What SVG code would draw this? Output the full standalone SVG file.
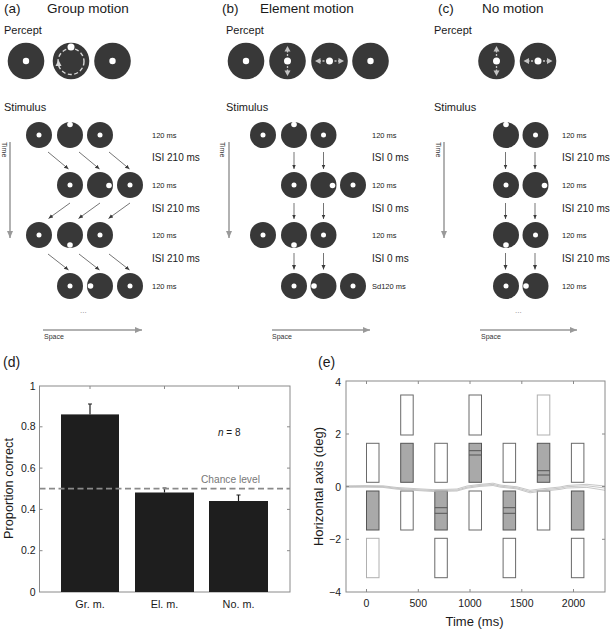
<svg xmlns="http://www.w3.org/2000/svg" width="611" height="631" viewBox="0 0 611 631">
<defs>
<style>
text{font-family:"Liberation Sans",Arial,sans-serif;fill:#1a1a1a}
.title{font-size:13.5px}
.sub{font-size:11px}
.ms{font-size:7.5px}
.isi{font-size:10px}
.small{font-size:7px;fill:#333}
.dots{font-size:8px;fill:#888}
.disk{fill:#383838}
.wd{fill:#fff}
.sa{stroke:#3a3a3a;stroke-width:0.7;fill:none;marker-end:url(#ah)}
.ga{stroke:#999;stroke-width:1.5;fill:none;marker-end:url(#gah)}
.pa{stroke:#c4c4c4;stroke-width:1.3;stroke-dasharray:2 1.5;fill:none}
.pt{fill:#c4c4c4}
.ax{stroke:#8a8a8a;stroke-width:1;fill:none}
.tk{font-size:10.5px}
.bar{fill:#1e1e1e}
.eb{stroke:#1e1e1e;stroke-width:1.2;fill:none}
.er{fill:#fff;stroke:#6a6a6a;stroke-width:1}
.erl{fill:#fff;stroke:#b0b0b0;stroke-width:1}
.ef{fill:#a9a9a9;stroke:#555;stroke-width:1}
.eline{stroke:#555;stroke-width:1;fill:none}
.tr{stroke:#b8b8b8;stroke-width:0.8;fill:none}
</style>
<marker id="ah" markerUnits="userSpaceOnUse" markerWidth="6" markerHeight="6" refX="4.5" refY="2" orient="auto"><path d="M0,0 L4.5,2 L0,4 z" fill="#3a3a3a"/></marker>
<marker id="gah" markerUnits="userSpaceOnUse" markerWidth="9" markerHeight="8" refX="7" refY="3" orient="auto"><path d="M0,0 L7,3 L0,6 z" fill="#999"/></marker>
</defs>

<!-- Panel (a) -->
<g id="panel-a-title"><text x="4" y="12.5" class="title">(a)</text><text x="47" y="12.5" class="title">Group motion</text></g>
<g id="a-percept-label"><text x="4" y="34" class="sub">Percept</text></g>
<g id="a-percept-1"><circle cx="26" cy="61" r="18.3" class="disk"/><circle cx="26" cy="61" r="3.2" class="wd"/></g>
<g id="a-percept-2"><circle cx="71" cy="61" r="18.3" class="disk"/><circle cx="71" cy="61.5" r="13" fill="none" stroke="#d8d8d8" stroke-width="1.4" stroke-dasharray="4 2.5"/><circle cx="71" cy="47" r="3.5" class="wd"/><path d="M55.5,66 L58.5,60 L61.5,66 z" fill="#d8d8d8"/></g>
<g id="a-percept-3"><circle cx="112.5" cy="61" r="18.3" class="disk"/><circle cx="112.5" cy="61" r="3.2" class="wd"/></g>
<g id="a-stimulus-label"><text x="4" y="110.5" class="sub">Stimulus</text></g>

<g id="a-row1"><circle cx="39" cy="135" r="13" class="disk"/><circle cx="39" cy="135" r="2.5" class="wd"/><circle cx="70" cy="135" r="13" class="disk"/><circle cx="70" cy="124.5" r="2.8" class="wd"/><circle cx="100" cy="135" r="13" class="disk"/><circle cx="100" cy="135" r="2.5" class="wd"/></g>
<g id="a-row2"><circle cx="70" cy="185" r="13" class="disk"/><circle cx="70" cy="185" r="2.5" class="wd"/><circle cx="100" cy="185" r="13" class="disk"/><circle cx="109" cy="185.5" r="2.8" class="wd"/><circle cx="130" cy="185" r="13" class="disk"/><circle cx="130" cy="185" r="2.5" class="wd"/></g>
<g id="a-row3"><circle cx="39" cy="235" r="13" class="disk"/><circle cx="39" cy="235" r="2.5" class="wd"/><circle cx="70" cy="235" r="13" class="disk"/><circle cx="70" cy="245" r="2.8" class="wd"/><circle cx="100" cy="235" r="13" class="disk"/><circle cx="100" cy="235" r="2.5" class="wd"/></g>
<g id="a-row4"><circle cx="70" cy="286" r="13" class="disk"/><circle cx="70" cy="286" r="2.5" class="wd"/><circle cx="100" cy="286" r="13" class="disk"/><circle cx="90.5" cy="286" r="2.8" class="wd"/><circle cx="130" cy="286" r="13" class="disk"/><circle cx="130" cy="286" r="2.5" class="wd"/></g>
<g id="a-labels">
<text x="152" y="138" class="ms">120 ms</text><text x="152" y="161" class="isi">ISI 210 ms</text>
<text x="152" y="188" class="ms">120 ms</text><text x="152" y="211.5" class="isi">ISI 210 ms</text>
<text x="152" y="238" class="ms">120 ms</text><text x="152" y="262" class="isi">ISI 210 ms</text>
<text x="152" y="289" class="ms">120 ms</text>
<text x="80" y="313" class="dots">...</text>
<text transform="translate(1.5,142) rotate(90)" class="small">Time</text>
<text x="44" y="339" class="small">Space</text>
</g>

<!-- Panel (b) -->
<g id="panel-b-title"><text x="222" y="12.5" class="title">(b)</text><text x="260" y="12.5" class="title">Element motion</text></g>
<g id="b-percept-label"><text x="226" y="34" class="sub">Percept</text></g>
<g id="b-percept-1"><circle cx="246" cy="61" r="18.3" class="disk"/><circle cx="246" cy="61" r="3.2" class="wd"/></g>
<g id="b-percept-2"><circle cx="287.5" cy="61" r="18.3" class="disk"/><circle cx="287.5" cy="61" r="3.5" class="wd"/><path d="M287.5,56 V51 M287.5,66 V71" class="pa"/><path d="M284.5,51.5 L287.5,46 L290.5,51.5 z M284.5,70.5 L287.5,76 L290.5,70.5 z" class="pt"/></g>
<g id="b-percept-3"><circle cx="329.5" cy="61" r="18.3" class="disk"/><circle cx="329.5" cy="61" r="3.5" class="wd"/><path d="M324.5,61 H320 M334.5,61 H339" class="pa"/><path d="M320.5,58 L315,61 L320.5,64 z M338.5,58 L344,61 L338.5,64 z" class="pt"/></g>
<g id="b-percept-4"><circle cx="370.5" cy="61" r="18.3" class="disk"/><circle cx="370.5" cy="61" r="3.2" class="wd"/></g>
<g id="b-stimulus-label"><text x="226" y="110.5" class="sub">Stimulus</text></g>

<g id="b-row1"><circle cx="263" cy="135" r="13" class="disk"/><circle cx="263" cy="135" r="2.5" class="wd"/><circle cx="294" cy="135" r="13" class="disk"/><circle cx="294" cy="124.5" r="2.8" class="wd"/><circle cx="323.5" cy="135" r="13" class="disk"/><circle cx="323.5" cy="135" r="2.5" class="wd"/></g>
<g id="b-row2"><circle cx="294" cy="185" r="13" class="disk"/><circle cx="294" cy="185" r="2.5" class="wd"/><circle cx="323.5" cy="185" r="13" class="disk"/><circle cx="332.5" cy="185.5" r="2.8" class="wd"/><circle cx="353" cy="185" r="13" class="disk"/><circle cx="353" cy="185" r="2.5" class="wd"/></g>
<g id="b-row3"><circle cx="263" cy="235" r="13" class="disk"/><circle cx="263" cy="235" r="2.5" class="wd"/><circle cx="294" cy="235" r="13" class="disk"/><circle cx="294" cy="245" r="2.8" class="wd"/><circle cx="323.5" cy="235" r="13" class="disk"/><circle cx="323.5" cy="235" r="2.5" class="wd"/></g>
<g id="b-row4"><circle cx="294" cy="286" r="13" class="disk"/><circle cx="294" cy="286" r="2.5" class="wd"/><circle cx="323.5" cy="286" r="13" class="disk"/><circle cx="314" cy="286" r="2.8" class="wd"/><circle cx="353" cy="286" r="13" class="disk"/><circle cx="353" cy="286" r="2.5" class="wd"/></g>
<g id="b-labels">
<text x="372" y="138" class="ms">120 ms</text><text x="372" y="161" class="isi">ISI 0 ms</text>
<text x="372" y="188" class="ms">120 ms</text><text x="372" y="211.5" class="isi">ISI 0 ms</text>
<text x="372" y="238" class="ms">120 ms</text><text x="372" y="262" class="isi">ISI 0 ms</text>
<text x="372" y="289" class="ms">Sd120 ms</text>
<text transform="translate(219.5,142) rotate(90)" class="small">Time</text>
<text x="272" y="339" class="small">Space</text>
</g>

<!-- Panel (c) -->
<g id="panel-c-title"><text x="438" y="12.5" class="title">(c)</text><text x="482" y="12.5" class="title">No motion</text></g>
<g id="c-percept-label"><text x="434" y="34" class="sub">Percept</text></g>
<g id="c-percept-1"><circle cx="496.5" cy="61" r="18.3" class="disk"/><circle cx="496.5" cy="61" r="3.5" class="wd"/><path d="M496.5,56 V51 M496.5,66 V71" class="pa"/><path d="M493.5,51.5 L496.5,46 L499.5,51.5 z M493.5,70.5 L496.5,76 L499.5,70.5 z" class="pt"/></g>
<g id="c-percept-2"><circle cx="538" cy="61" r="18.3" class="disk"/><circle cx="538" cy="61" r="3.5" class="wd"/><path d="M533,61 H528.5 M543,61 H547.5" class="pa"/><path d="M529,58 L523.5,61 L529,64 z M547,58 L552.5,61 L547,64 z" class="pt"/></g>
<g id="c-stimulus-label"><text x="434" y="110.5" class="sub">Stimulus</text></g>

<g id="c-row1"><circle cx="506" cy="135" r="13" class="disk"/><circle cx="506" cy="124.5" r="2.8" class="wd"/><circle cx="535.5" cy="135" r="13" class="disk"/><circle cx="535.5" cy="135" r="2.5" class="wd"/></g>
<g id="c-row2"><circle cx="506" cy="185" r="13" class="disk"/><circle cx="506" cy="185" r="2.5" class="wd"/><circle cx="535.5" cy="185" r="13" class="disk"/><circle cx="544.5" cy="185.5" r="2.8" class="wd"/></g>
<g id="c-row3"><circle cx="506" cy="235" r="13" class="disk"/><circle cx="506" cy="245" r="2.8" class="wd"/><circle cx="535.5" cy="235" r="13" class="disk"/><circle cx="535.5" cy="235" r="2.5" class="wd"/></g>
<g id="c-row4"><circle cx="506" cy="286" r="13" class="disk"/><circle cx="506" cy="286" r="2.5" class="wd"/><circle cx="535.5" cy="286" r="13" class="disk"/><circle cx="526" cy="286" r="2.8" class="wd"/></g>
<g id="c-labels">
<text x="562" y="138" class="ms">120 ms</text><text x="562" y="161" class="isi">ISI 210 ms</text>
<text x="562" y="188" class="ms">120 ms</text><text x="562" y="211.5" class="isi">ISI 210 ms</text>
<text x="562" y="238" class="ms">120 ms</text><text x="562" y="262" class="isi">ISI 210 ms</text>
<text x="562" y="289" class="ms">120 ms</text>
<text x="515" y="313" class="dots">...</text>
<text transform="translate(435.5,142) rotate(90)" class="small">Time</text>
<text x="481" y="339" class="small">Space</text>
</g>

<!-- Connectors -->
<g id="connectors">
<line class="sa" x1="48" y1="152" x2="68.5" y2="169"/>
<line class="sa" x1="79" y1="152" x2="99.5" y2="169"/>
<line class="sa" x1="109" y1="152" x2="129.5" y2="169"/>
<line class="sa" x1="70" y1="203" x2="48.5" y2="218.5"/>
<line class="sa" x1="100" y1="203" x2="78.5" y2="218.5"/>
<line class="sa" x1="130" y1="203" x2="108.5" y2="218.5"/>
<line class="sa" x1="48" y1="254" x2="68.5" y2="270"/>
<line class="sa" x1="79" y1="254" x2="99.5" y2="270"/>
<line class="sa" x1="109" y1="254" x2="129.5" y2="270"/>
<line class="sa" x1="294" y1="152" x2="294" y2="169"/>
<line class="sa" x1="323.5" y1="152" x2="323.5" y2="169"/>
<line class="sa" x1="294" y1="203" x2="294" y2="219"/>
<line class="sa" x1="323.5" y1="203" x2="323.5" y2="219"/>
<line class="sa" x1="294" y1="253" x2="294" y2="269.5"/>
<line class="sa" x1="323.5" y1="253" x2="323.5" y2="269.5"/>
<line class="sa" x1="505.5" y1="152" x2="505.5" y2="169"/>
<line class="sa" x1="535" y1="152" x2="535" y2="169"/>
<line class="sa" x1="505.5" y1="203" x2="505.5" y2="219"/>
<line class="sa" x1="535" y1="203" x2="535" y2="219"/>
<line class="sa" x1="505.5" y1="253" x2="505.5" y2="269.5"/>
<line class="sa" x1="535" y1="253" x2="535" y2="269.5"/>
<line class="ga" x1="10" y1="142" x2="10" y2="238"/>
<line class="ga" x1="229" y1="142" x2="229" y2="238"/>
<line class="ga" x1="444" y1="142" x2="444" y2="238"/>
<line class="ga" x1="43" y1="330" x2="142" y2="330"/>
<line class="ga" x1="272" y1="330" x2="370" y2="330"/>
<line class="ga" x1="480" y1="330" x2="577" y2="330"/>
</g>

<!-- Panel (d) -->
<g id="panel-d">
<text x="3" y="367" class="title" style="font-size:14px">(d)</text>
<rect x="39.5" y="386" width="250.5" height="206" class="ax"/>
<path class="ax" d="M39.5,550.7 h3 M39.5,509.4 h3 M39.5,468.1 h3 M39.5,426.8 h3 M290,550.7 h-3 M290,509.4 h-3 M290,468.1 h-3 M290,426.8 h-3 M90,386 v3 M164.5,386 v3 M238.5,386 v3 M90,592 v-3 M164.5,592 v-3 M238.5,592 v-3"/>
<rect x="61" y="414.4" width="58" height="177.6" class="bar"/>
<rect x="135" y="492.5" width="59" height="99.5" class="bar"/>
<rect x="209" y="501" width="59" height="91" class="bar"/>
<path class="eb" d="M90,414.4 V404 M88,404 H92 M164.5,492.5 V488 M162.5,488 H166.5 M238.5,501 V495 M236.5,495 H240.5"/>
<line x1="39.5" y1="488.7" x2="290" y2="488.7" stroke="#8a8a8a" stroke-width="1.8" stroke-dasharray="6 3.5"/>
<text x="201" y="482.5" style="font-size:10.2px;fill:#777">Chance level</text>
<text x="218" y="436" style="font-size:10px"><tspan font-style="italic">n</tspan> = 8</text>
<g class="tk" text-anchor="end">
<text x="35.5" y="595.5" class="tk">0</text>
<text x="35.5" y="554.2" class="tk">0.2</text>
<text x="35.5" y="512.9" class="tk">0.4</text>
<text x="35.5" y="471.6" class="tk">0.6</text>
<text x="35.5" y="430.3" class="tk">0.8</text>
<text x="35.5" y="389.5" class="tk">1</text>
</g>
<g text-anchor="middle">
<text x="90" y="608" style="font-size:10.8px">Gr. m.</text>
<text x="164.5" y="608" style="font-size:10.8px">El. m.</text>
<text x="238.5" y="608" style="font-size:10.8px">No. m.</text>
</g>
<text transform="translate(12.5,488.5) rotate(-90)" text-anchor="middle" style="font-size:12.7px">Proportion correct</text>
</g>

<!-- Panel (e) -->
<g id="panel-e">
<text x="318" y="367" class="title" style="font-size:14px">(e)</text>
<g id="e-rects">
<rect x="400.7" y="395" width="12.5" height="40" class="er"/>
<rect x="469" y="395" width="12.5" height="40" class="er"/>
<rect x="537.3" y="395" width="12.5" height="40" class="erl"/>
<rect x="366.5" y="443.3" width="12.5" height="39" class="er"/>
<rect x="400.7" y="443.3" width="12.5" height="39" class="ef"/>
<rect x="434.8" y="443.3" width="12.5" height="39" class="er"/>
<rect x="469" y="443.3" width="12.5" height="39" class="ef"/>
<rect x="503.1" y="443.3" width="12.5" height="39" class="er"/>
<rect x="537.3" y="443.3" width="12.5" height="39" class="ef"/>
<rect x="571.4" y="443.3" width="12.5" height="39" class="er"/>
<rect x="366.5" y="491" width="12.5" height="39" class="ef"/>
<rect x="400.7" y="491" width="12.5" height="39" class="er"/>
<rect x="434.8" y="491" width="12.5" height="39" class="ef"/>
<rect x="469" y="491" width="12.5" height="39" class="er"/>
<rect x="503.1" y="491" width="12.5" height="39" class="ef"/>
<rect x="537.3" y="491" width="12.5" height="39" class="er"/>
<rect x="571.4" y="491" width="12.5" height="39" class="ef"/>
<rect x="366.5" y="538.3" width="12.5" height="39.4" class="erl"/>
<rect x="434.8" y="538.3" width="12.5" height="39.4" class="er"/>
<rect x="503.1" y="538.3" width="12.5" height="39.4" class="er"/>
<rect x="571.4" y="538.3" width="12.5" height="39.4" class="er"/>
<path class="eline" d="M434.8,507.7 h12.5 M434.8,513.3 h12.5 M469,450.7 h12.5 M469,455 h12.5 M503.1,507.7 h12.5 M503.1,513.3 h12.5 M537.3,470.7 h12.5 M537.3,475 h12.5"/>
</g>
<g id="e-traces">
<path class="tr" d="M346,485.8 L365,485.6 L383,485.8 L397,487.5 L415,488.6 L433,489.6 L445,489.4 L457,489 L467,486 L480,484.4 L493,483.2 L500,485 L517,486.8 L530,490.3 L540,489 L560,487 L567,485.5 L587,484.3 L605,486"/>
<path class="tr" d="M346,486.6 L365,486.4 L383,486.6 L397,488.4 L415,489.6 L433,490.6 L445,490.4 L457,490.1 L467,487.2 L480,485.4 L493,484.4 L500,486.1 L517,487.9 L530,491.6 L540,490.2 L560,488.2 L567,486.7 L587,485.8 L605,488"/>
<path class="tr" d="M346,487.3 L365,487.2 L383,487.4 L397,489.2 L415,490.4 L433,491.5 L445,491.3 L457,491 L467,488.2 L480,486.4 L493,485.5 L500,487.1 L517,488.9 L530,492.8 L540,491.4 L560,489.4 L567,488 L587,487.4 L605,490.3"/>
</g>
<rect x="346" y="381" width="259" height="211" class="ax"/>
<path class="ax" d="M366.5,381 v3 M418.3,381 v3 M470,381 v3 M521.8,381 v3 M573.5,381 v3 M366.5,592 v-3 M418.3,592 v-3 M470,592 v-3 M521.8,592 v-3 M573.5,592 v-3 M346,434 h3 M346,486.5 h3 M346,539.3 h3 M605,434 h-3 M605,486.5 h-3 M605,539.3 h-3"/>
<g text-anchor="end">
<text x="341" y="385.5" class="tk">4</text>
<text x="341" y="438" class="tk">2</text>
<text x="341" y="490.5" class="tk">0</text>
<text x="341" y="543" class="tk">−2</text>
<text x="341" y="595.5" class="tk">−4</text>
</g>
<g text-anchor="middle">
<text x="366.5" y="607" class="tk">0</text>
<text x="418.3" y="607" class="tk">500</text>
<text x="470" y="607" class="tk">1000</text>
<text x="521.8" y="607" class="tk">1500</text>
<text x="573.5" y="607" class="tk">2000</text>
</g>
<text x="474.5" y="626" text-anchor="middle" style="font-size:13px">Time (ms)</text>
<text transform="translate(322.5,486.5) rotate(-90)" text-anchor="middle" style="font-size:13px">Horizontal axis (deg)</text>
</g>
</svg>
